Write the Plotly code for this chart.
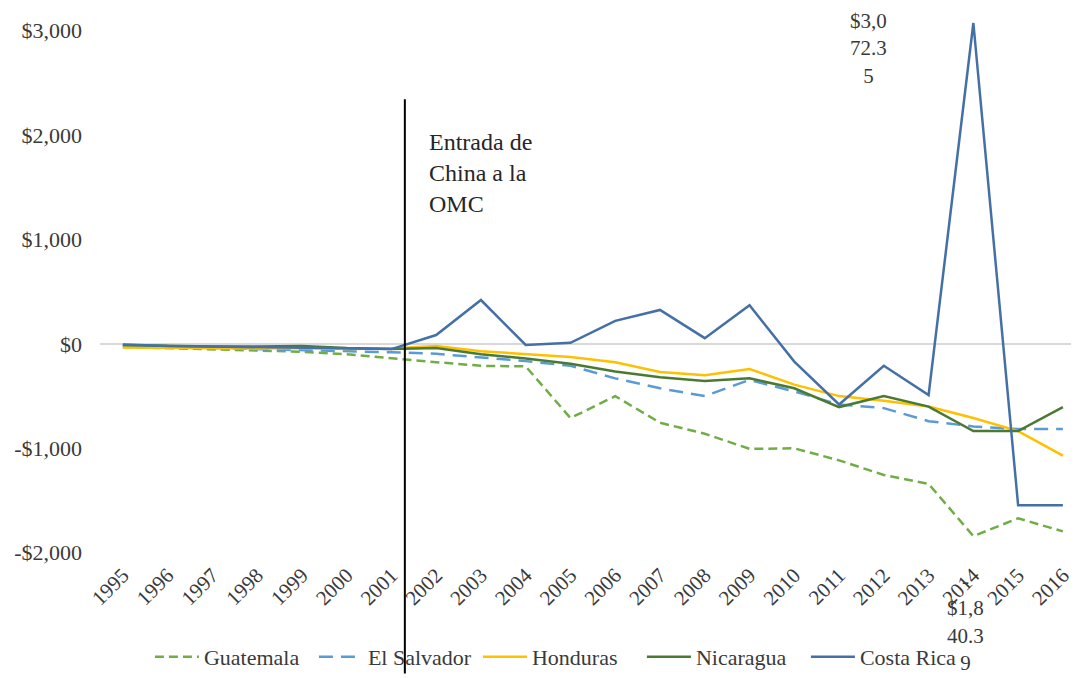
import plotly.graph_objects as go

years = list(range(1995, 2017))
year_labels = [str(y) for y in years]

guatemala = [-30, -40, -50, -60, -75, -100, -140, -175, -210, -215, -710, -500, -755, -860,
             -1005, -1000, -1115, -1255, -1340, -1840.39, -1670, -1795]
el_salvador = [-20, -30, -40, -50, -55, -65, -80, -95, -130, -165, -210, -330, -425, -500,
               -345, -455, -580, -615, -740, -790, -815, -815]
honduras = [-35, -40, -45, -45, -40, -50, -45, -20, -70, -100, -125, -175, -270, -300,
            -240, -390, -500, -545, -600, -710, -835, -1070]
nicaragua = [-10, -20, -25, -25, -20, -40, -50, -40, -100, -140, -190, -265, -320, -355,
             -330, -425, -605, -500, -600, -835, -835, -605]
costa_rica = [-5, -20, -25, -30, -35, -45, -50, 85, 420, -10, 10, 220, 325, 55,
              370, -170, -580, -210, -490, 3072.35, -1545, -1545]

series = [
    ("Guatemala", guatemala, "#70AD47", "9px,5px"),
    ("El Salvador", el_salvador, "#5B9BD5", "14px,8px"),
    ("Honduras", honduras, "#FFC000", "solid"),
    ("Nicaragua", nicaragua, "#4A7A32", "solid"),
    ("Costa Rica", costa_rica, "#4470A6", "solid"),
]

wto_year = 2001.3
peak_label = "$3,0<br>72.3<br>5"
trough_label = "-<br>$1,8<br>40.3<br>9"

FONT = "Liberation Serif"
TXT = "#3A3A3A"

fig = go.Figure()
for name, vals, color, dash in series:
    fig.add_trace(go.Scatter(x=years, y=vals, mode="lines", name=name,
                             line=dict(color=color, width=2.5, dash=dash)))

x_range = [1994.49, 2016.36]
fig.update_layout(
    width=1071, height=670,
    margin=dict(l=92, r=0, t=0, b=113),
    plot_bgcolor="white", paper_bgcolor="white",
    font=dict(family=FONT, color=TXT, size=21),
    showlegend=True,
    legend=dict(orientation="h", x=0.051, y=-0.181, xanchor="left", yanchor="middle",
                font=dict(family=FONT, size=22, color=TXT), itemwidth=44,
                entrywidth=105, entrywidthmode="pixels",
                bgcolor="rgba(0,0,0,0)"),
    xaxis=dict(range=x_range, tickmode="array", tickvals=years, ticktext=year_labels,
               tickangle=-45, showgrid=False, zeroline=False, showline=False,
               automargin=False,
               tickfont=dict(family=FONT, size=21, color=TXT)),
    yaxis=dict(range=[-2050, 3216], tickvals=[-2000, -1000, 0, 1000, 2000, 3000],
               ticktext=["-$2,000", "-$1,000", "$0", "$1,000", "$2,000", "$3,000"],
               showgrid=False, zeroline=True, zerolinecolor="#D9D9D9", zerolinewidth=1.5,
               showline=False, ticklabelstandoff=17, automargin=False,
               tickfont=dict(family=FONT, size=22, color=TXT)),
)

fig.add_shape(type="line", xref="x", yref="paper", x0=wto_year, x1=wto_year,
              y0=-0.21, y1=0.834, line=dict(color="black", width=2))

fig.add_annotation(x=wto_year, y=2080, xref="x", yref="y", xanchor="left", yanchor="top",
                   xshift=22, showarrow=False, align="left",
                   text="Entrada de<br>China a la<br>OMC",
                   font=dict(family=FONT, size=24, color="#262626"))
fig.add_annotation(x=2014, y=costa_rica[19], xref="x", yref="y", showarrow=False,
                   xshift=-105, yshift=-25, align="center", text=peak_label,
                   font=dict(family=FONT, size=21, color=TXT))
fig.add_annotation(x=2014, y=guatemala[19], xref="x", yref="y", showarrow=False,
                   xshift=-8, yshift=-86, align="center", text=trough_label,
                   font=dict(family=FONT, size=21, color=TXT))

fig.write_html("out.html")
